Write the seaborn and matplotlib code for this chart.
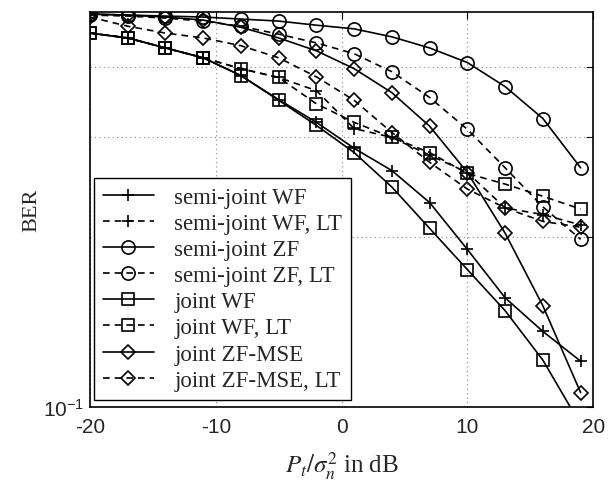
import numpy as np
import pandas as pd
import seaborn as sns
import matplotlib
matplotlib.use("Agg")
import matplotlib.pyplot as plt

# SNR axis in dB
snr_db = [-20, -17, -14, -11, -8, -5, -2, 1, 4, 7, 10, 13, 16, 19]

# BER values
ber_semi_wf = [0.459, 0.450, 0.432, 0.415, 0.386, 0.350, 0.319, 0.287, 0.262, 0.230, 0.190, 0.156, 0.136, 0.1205]
ber_semi_wf_lt = [0.459, 0.450, 0.432, 0.415, 0.397, 0.383, 0.363, 0.311, 0.300, 0.279, 0.260, 0.225, 0.219, 0.210]
ber_semi_zf = [0.496, 0.494, 0.492, 0.490, 0.486, 0.482, 0.474, 0.467, 0.452, 0.432, 0.407, 0.369, 0.324, 0.265]
ber_semi_zf_lt = [0.494, 0.492, 0.488, 0.482, 0.472, 0.457, 0.441, 0.422, 0.392, 0.353, 0.310, 0.265, 0.226, 0.198]
ber_joint_wf = [0.459, 0.450, 0.432, 0.415, 0.386, 0.349, 0.315, 0.282, 0.245, 0.207, 0.175, 0.148, 0.121, 0.093]
ber_joint_wf_lt = [0.459, 0.450, 0.432, 0.415, 0.397, 0.383, 0.344, 0.319, 0.300, 0.282, 0.259, 0.248, 0.236, 0.224]
ber_joint_zfmse = [0.496, 0.494, 0.490, 0.484, 0.470, 0.450, 0.427, 0.397, 0.360, 0.314, 0.260, 0.203, 0.151, 0.106]
ber_joint_zfmse_lt = [0.490, 0.472, 0.459, 0.450, 0.436, 0.415, 0.384, 0.349, 0.306, 0.271, 0.243, 0.225, 0.213, 0.208]

labels = ["semi-joint WF", "semi-joint WF, LT", "semi-joint ZF", "semi-joint ZF, LT",
          "joint WF", "joint WF, LT", "joint ZF-MSE", "joint ZF-MSE, LT"]
series = [ber_semi_wf, ber_semi_wf_lt, ber_semi_zf, ber_semi_zf_lt,
          ber_joint_wf, ber_joint_wf_lt, ber_joint_zfmse, ber_joint_zfmse_lt]
markers = ["+", "+", "o", "o", "s", "s", "D", "D"]
marker_sizes = {"+": 9, "o": 9.5, "s": 8, "D": 7.5}

sns.set_style("white")
plt.rcParams["axes.unicode_minus"] = False
plt.rcParams["mathtext.fontset"] = "stix"

fig = plt.figure(figsize=(6.16, 4.85), dpi=100)
ax = fig.add_axes([0.146, 0.159, 0.817, 0.814])

for i, (lab, ys, mk) in enumerate(zip(labels, series, markers)):
    dashed = i % 2 == 1
    sns.lineplot(
        x=snr_db, y=ys, ax=ax, color="black", linewidth=1.2,
        marker=mk, markersize=marker_sizes[mk], markerfacecolor="none",
        markeredgecolor="black", markeredgewidth=1.2,
        linestyle=(0, (4, 3)) if dashed else "-",
        label=lab, clip_on=True,
    )

ax.set_yscale("log")
ax.set_xlim(-20, 20)
ax.set_ylim(0.1, 0.5)

ax.set_xticks([-20, -10, 0, 10, 20])
ax.set_xticklabels(["-20", "-10", "0", "10", "20"], fontfamily="Liberation Sans", fontsize=15)
ax.set_yticks([0.1])
ax.set_yticklabels([r"$\mathregular{10^{-1}}$"], fontfamily="Liberation Sans", fontsize=15)
ax.set_yticks([0.2, 0.3, 0.4], minor=True)
ax.set_yticklabels([], minor=True)
ax.set_xticks([], minor=True)

ax.tick_params(which="both", direction="in", top=True, right=True, length=5, width=0.8, color="black")
ax.tick_params(axis="x", pad=7)
ax.tick_params(axis="y", pad=4)
ax.grid(True, which="major", axis="x", linestyle=(0, (1, 3)), color="#888888", linewidth=0.8)
ax.grid(True, which="minor", axis="y", linestyle=(0, (1, 3)), color="#888888", linewidth=0.8)
ax.set_axisbelow(True)

for sp in ax.spines.values():
    sp.set_color("black")
    sp.set_linewidth(1.2)

ax.set_xlabel(r"$P_t/\sigma_n^2$ in dB", fontfamily="Liberation Serif", fontsize=18, labelpad=10)
ax.set_ylabel("BER", fontfamily="Liberation Serif", fontsize=16, labelpad=1)

leg = ax.legend(loc="lower left", bbox_to_anchor=(0.008, 0.018), borderaxespad=0,
                prop={"family": "Liberation Serif", "size": 16.5},
                frameon=True, fancybox=False, edgecolor="black", framealpha=1,
                handlelength=2.2, labelspacing=0.22, handletextpad=0.9, borderpad=0.4)
leg.get_frame().set_linewidth(1.0)

fig.savefig("out.png", dpi=100)
